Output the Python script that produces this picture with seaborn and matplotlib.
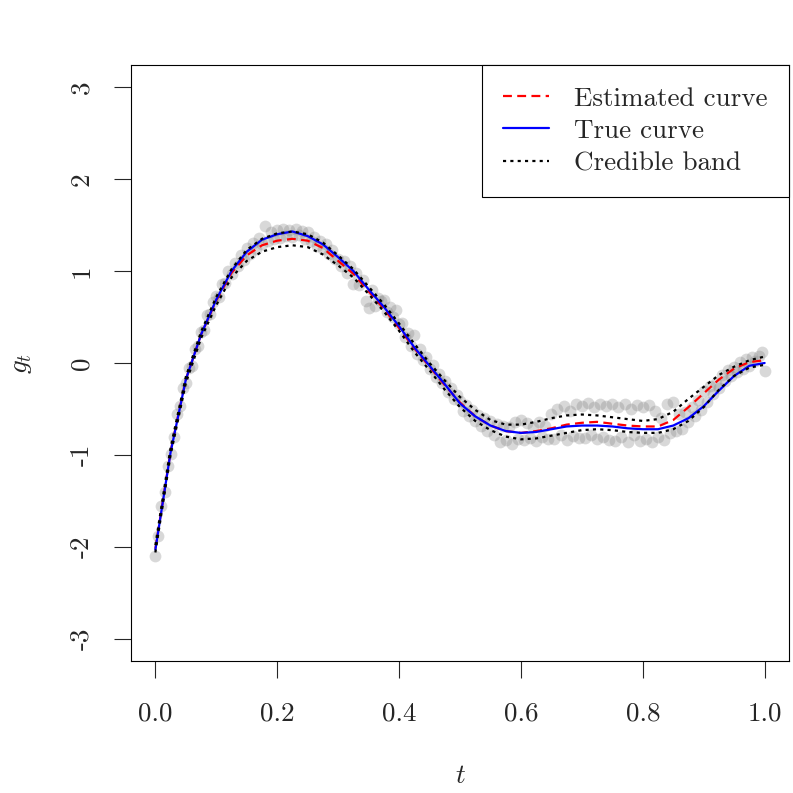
import matplotlib.pyplot as plt
import numpy as np
import pandas as pd
import seaborn as sns

plt.switch_backend("Agg")

# --- curves, read at t = 0, 0.025, ..., 1 ---
t_curve = np.round(np.arange(0, 41) * 0.025, 3)

true_curve = [-2.03, -0.97, -0.18, 0.31, 0.69, 1.00, 1.21, 1.34, 1.40, 1.43,
              1.38, 1.29, 1.15, 1.00, 0.80, 0.61, 0.40, 0.17, -0.03, -0.23,
              -0.44, -0.58, -0.68, -0.74, -0.76, -0.75, -0.72, -0.69, -0.68, -0.68,
              -0.69, -0.71, -0.72, -0.72, -0.68, -0.60, -0.47, -0.30, -0.14, -0.03,
              0.00]

est_curve = [-2.02, -0.96, -0.18, 0.31, 0.68, 0.98, 1.17, 1.28, 1.33, 1.35,
             1.33, 1.25, 1.11, 0.97, 0.78, 0.59, 0.38, 0.16, -0.04, -0.24,
             -0.43, -0.58, -0.68, -0.74, -0.76, -0.74, -0.71, -0.67, -0.65, -0.64,
             -0.66, -0.68, -0.69, -0.69, -0.62, -0.48, -0.33, -0.18, -0.06, 0.01,
             0.03]

band_upper = [-1.98, -0.92, -0.15, 0.34, 0.72, 1.02, 1.23, 1.35, 1.41, 1.43,
              1.40, 1.31, 1.17, 1.02, 0.83, 0.64, 0.43, 0.21, 0.00, -0.19,
              -0.37, -0.51, -0.62, -0.67, -0.67, -0.64, -0.60, -0.57, -0.56, -0.57,
              -0.59, -0.61, -0.63, -0.61, -0.53, -0.39, -0.26, -0.13, -0.04, 0.03,
              0.07]

band_lower = [-2.06, -1.00, -0.22, 0.27, 0.63, 0.93, 1.11, 1.21, 1.26, 1.28,
              1.26, 1.18, 1.06, 0.93, 0.75, 0.56, 0.35, 0.12, -0.08, -0.29,
              -0.48, -0.63, -0.73, -0.80, -0.83, -0.82, -0.79, -0.76, -0.73, -0.72,
              -0.73, -0.75, -0.76, -0.76, -0.72, -0.63, -0.48, -0.29, -0.14, -0.05,
              -0.02]

# --- observations, t = 0, 0.005, ..., 1 ---
t_obs = np.round(np.arange(0, 201) * 0.005, 3)
y_obs = [
    -2.10, -1.88, -1.55, -1.40, -1.12, -0.99, -0.80, -0.55, -0.47, -0.27,
    -0.22, -0.05, -0.03, 0.15, 0.18, 0.34, 0.36, 0.52, 0.53, 0.66,
    0.73, 0.72, 0.86, 0.87, 1.00, 0.97, 1.09, 1.05, 1.17, 1.12,
    1.25, 1.18, 1.31, 1.24, 1.36, 1.29, 1.49, 1.33, 1.42, 1.35,
    1.45, 1.36, 1.46, 1.38, 1.45, 1.37, 1.46, 1.39, 1.44, 1.35,
    1.42, 1.33, 1.37, 1.27, 1.33, 1.24, 1.29, 1.19, 1.23, 1.13,
    1.13, 1.06, 1.11, 0.98, 1.05, 0.86, 0.98, 0.85, 0.90, 0.67,
    0.60, 0.79, 0.62, 0.71, 0.67, 0.69, 0.55, 0.61, 0.50, 0.58,
    0.42, 0.44, 0.28, 0.33, 0.19, 0.30, 0.10, 0.15, 0.03, 0.06,
    -0.06, -0.02, -0.15, -0.12, -0.22, -0.20, -0.31, -0.27, -0.39, -0.35,
    -0.41, -0.52, -0.46, -0.58, -0.51, -0.63, -0.57, -0.69, -0.60, -0.74,
    -0.63, -0.78, -0.66, -0.86, -0.68, -0.84, -0.70, -0.88, -0.64, -0.83,
    -0.62, -0.84, -0.65, -0.82, -0.70, -0.85, -0.64, -0.80, -0.68, -0.83,
    -0.55, -0.83, -0.50, -0.78, -0.47, -0.84, -0.52, -0.79, -0.45, -0.82,
    -0.47, -0.81, -0.44, -0.78, -0.48, -0.83, -0.45, -0.80, -0.47, -0.84,
    -0.45, -0.85, -0.48, -0.80, -0.45, -0.86, -0.50, -0.78, -0.46, -0.85,
    -0.48, -0.83, -0.46, -0.86, -0.52, -0.80, -0.60, -0.84, -0.45, -0.76,
    -0.42, -0.74, -0.55, -0.72, -0.53, -0.64, -0.48, -0.58, -0.40, -0.51,
    -0.30, -0.42, -0.25, -0.34, -0.22, -0.27, -0.13, -0.20, -0.08, -0.14,
    -0.04, -0.10, 0.01, -0.06, 0.04, -0.03, 0.06, 0.02, 0.08, 0.12,
    -0.09,
]

x_ticks = [0.0, 0.2, 0.4, 0.6, 0.8, 1.0]
x_tick_labels = ["0.0", "0.2", "0.4", "0.6", "0.8", "1.0"]
y_ticks = [-3, -2, -1, 0, 1, 2, 3]
y_tick_labels = ["-3", "-2", "-1", "0", "1", "2", "3"]

sns.set_style("ticks")
plt.rcParams["font.family"] = ["cmr10", "DejaVu Serif"]
plt.rcParams["mathtext.fontset"] = "cm"
plt.rcParams["axes.unicode_minus"] = False
FS = 19.5

obs = pd.DataFrame({"t": t_obs, "g": y_obs})

fig = plt.figure(figsize=(7.93, 7.93), dpi=100)
ax = fig.add_axes([131 / 793, 132 / 793, 658 / 793, 596 / 793])

sns.scatterplot(data=obs, x="t", y="g", ax=ax, color="#808080", alpha=0.3,
                s=72, linewidth=0, zorder=1)

lw = 1.6
sns.lineplot(x=t_curve, y=est_curve, ax=ax, color="red", lw=lw,
             linestyle=(0, (4, 2.4)), label="Estimated curve", zorder=3)
sns.lineplot(x=t_curve, y=true_curve, ax=ax, color="blue", lw=lw,
             label="True curve", zorder=4)
sns.lineplot(x=t_curve, y=band_upper, ax=ax, color="black", lw=lw,
             linestyle=(0, (1.4, 1.9)), label="Credible band", zorder=5)
sns.lineplot(x=t_curve, y=band_lower, ax=ax, color="black", lw=lw,
             linestyle=(0, (1.4, 1.9)), zorder=5)

ax.set_xlim(-0.04, 1.04)
ax.set_ylim(-3.24, 3.24)
ax.set_xticks(x_ticks)
ax.set_xticklabels(x_tick_labels, fontsize=FS)
ax.set_yticks(y_ticks)
ax.set_yticklabels(y_tick_labels, fontsize=FS, rotation=90, va="center")
ax.tick_params(axis="x", length=12, width=0.8, pad=17)
ax.tick_params(axis="y", length=12, width=0.8, pad=15)
for sp in ax.spines.values():
    sp.set_visible(True)
    sp.set_linewidth(0.8)
    sp.set_color("black")

ax.set_xlabel("$t$", fontsize=FS, labelpad=28)
ax.set_ylabel("$g_t$", fontsize=FS, labelpad=26)

leg = ax.legend(loc="upper right", borderaxespad=0, fancybox=False,
                edgecolor="black", framealpha=1, fontsize=FS,
                handlelength=1.7, handletextpad=0.9, borderpad=0.8,
                labelspacing=0.31)
leg.get_frame().set_linewidth(0.8)

fig.savefig("out.png", dpi=100, facecolor="white")
